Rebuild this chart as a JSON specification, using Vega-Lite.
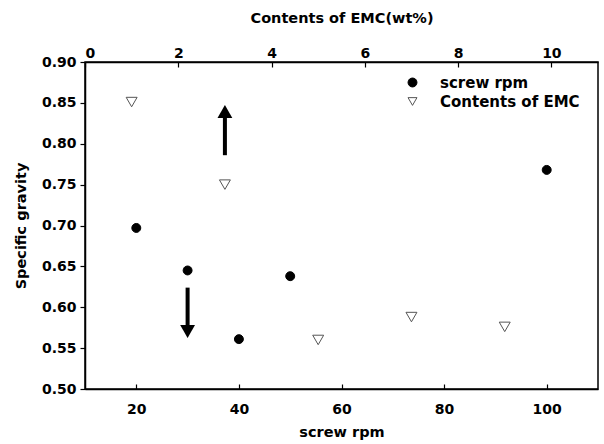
{
  "$schema": "https://vega.github.io/schema/vega-lite/v6.json",
  "width": 513,
  "height": 327,
  "autosize": "none",
  "padding": {"left": 85, "top": 62, "right": 6, "bottom": 55},
  "background": "white",
  "config": {
    "view": {"stroke": "#000000", "strokeWidth": 1.5},
    "axis": {
      "grid": false,
      "domainColor": "#000000",
      "domainWidth": 1.5,
      "tickColor": "#000000",
      "tickWidth": 1.2,
      "labelFont": "DejaVu Sans",
      "labelFontWeight": "bold",
      "labelFontSize": 14,
      "labelColor": "#000000",
      "titleFont": "DejaVu Sans",
      "titleFontWeight": "bold",
      "titleFontSize": 14.5,
      "titleColor": "#000000"
    },
    "legend": {
      "labelFont": "DejaVu Sans",
      "labelFontWeight": "bold",
      "labelFontSize": 15,
      "labelColor": "#000000",
      "symbolSize": 80,
      "symbolStrokeWidth": 1,
      "labelOffset": 20,
      "rowPadding": 3,
      "padding": 0
    }
  },
  "layer": [
    {
      "layer": [
        {
          "data": {
            "values": [
              {"series": "screw rpm", "rpm": 20, "gravity": 0.697},
              {"series": "screw rpm", "rpm": 30, "gravity": 0.645},
              {"series": "screw rpm", "rpm": 40, "gravity": 0.561},
              {"series": "screw rpm", "rpm": 50, "gravity": 0.638},
              {"series": "screw rpm", "rpm": 100, "gravity": 0.768}
            ]
          },
          "mark": {"type": "point", "filled": true, "size": 80, "strokeWidth": 1, "opacity": 1},
          "encoding": {
            "x": {
              "field": "rpm",
              "type": "quantitative",
              "scale": {"domain": [10, 110], "nice": false, "zero": false},
              "axis": {
                "orient": "bottom",
                "title": "screw rpm",
                "values": [20, 40, 60, 80, 100],
                "tickSize": -5,
                "labelPadding": 18,
                "titlePadding": 9
              }
            },
            "y": {
              "field": "gravity",
              "type": "quantitative",
              "title": "Specific gravity",
              "scale": {"domain": [0.5, 0.9], "nice": false, "zero": false},
              "axis": {
                "values": [0.5, 0.55, 0.6, 0.65, 0.7, 0.75, 0.8, 0.85, 0.9],
                "format": ".2f",
                "tickSize": 5,
                "labelPadding": 4,
                "titlePadding": 13
              }
            },
            "shape": {
              "field": "series",
              "type": "nominal",
              "scale": {"domain": ["screw rpm", "Contents of EMC"], "range": ["circle", "triangle-down"]},
              "legend": {"title": null, "orient": "none", "legendX": 320, "legendY": 13}
            },
            "fill": {
              "field": "series",
              "type": "nominal",
              "scale": {"domain": ["screw rpm", "Contents of EMC"], "range": ["#000000", "#ffffff"]},
              "legend": {"title": null, "orient": "none", "legendX": 320, "legendY": 13}
            },
            "stroke": {
              "field": "series",
              "type": "nominal",
              "scale": {"domain": ["screw rpm", "Contents of EMC"], "range": ["#000000", "#555555"]},
              "legend": {"title": null, "orient": "none", "legendX": 320, "legendY": 13}
            }
          }
        },
        {
          "data": {"values": [{"rpm": 30, "from": 0.624, "to": 0.575, "tip": 0.5703}]},
          "mark": {"type": "rule", "strokeWidth": 4, "color": "#000000"},
          "encoding": {
            "x": {"field": "rpm", "type": "quantitative"},
            "y": {"field": "from", "type": "quantitative", "title": "Specific gravity"},
            "y2": {"field": "to"}
          }
        },
        {
          "data": {"values": [{"rpm": 30, "from": 0.624, "to": 0.575, "tip": 0.5703}]},
          "mark": {"type": "point", "shape": "triangle-down", "filled": true, "size": 220, "color": "#000000", "opacity": 1},
          "encoding": {
            "x": {"field": "rpm", "type": "quantitative"},
            "y": {"field": "tip", "type": "quantitative", "title": "Specific gravity"}
          }
        }
      ]
    },
    {
      "layer": [
        {
          "data": {
            "values": [
              {"series": "Contents of EMC", "emc": 1, "gravity": 0.851},
              {"series": "Contents of EMC", "emc": 3, "gravity": 0.75},
              {"series": "Contents of EMC", "emc": 5, "gravity": 0.56},
              {"series": "Contents of EMC", "emc": 7, "gravity": 0.588},
              {"series": "Contents of EMC", "emc": 9, "gravity": 0.576}
            ]
          },
          "mark": {"type": "point", "filled": true, "size": 120, "strokeWidth": 1, "opacity": 1},
          "encoding": {
            "x": {
              "field": "emc",
              "type": "quantitative",
              "scale": {"domain": [0, 11], "nice": false, "zero": false},
              "axis": {
                "orient": "top",
                "title": "Contents of EMC(wt%)",
                "values": [0, 2, 4, 6, 8, 10],
                "tickSize": -5,
                "labelPadding": 7,
                "titlePadding": 21
              }
            },
            "y": {"field": "gravity", "type": "quantitative", "title": "Specific gravity"},
            "shape": {
              "field": "series",
              "type": "nominal",
              "scale": {"domain": ["screw rpm", "Contents of EMC"], "range": ["circle", "triangle-down"]},
              "legend": {"title": null, "orient": "none", "legendX": 320, "legendY": 13}
            },
            "fill": {
              "field": "series",
              "type": "nominal",
              "scale": {"domain": ["screw rpm", "Contents of EMC"], "range": ["#000000", "#ffffff"]},
              "legend": {"title": null, "orient": "none", "legendX": 320, "legendY": 13}
            },
            "stroke": {
              "field": "series",
              "type": "nominal",
              "scale": {"domain": ["screw rpm", "Contents of EMC"], "range": ["#000000", "#555555"]},
              "legend": {"title": null, "orient": "none", "legendX": 320, "legendY": 13}
            }
          }
        },
        {
          "data": {"values": [{"emc": 3, "from": 0.786, "to": 0.835, "tip": 0.8394}]},
          "mark": {"type": "rule", "strokeWidth": 4, "color": "#000000"},
          "encoding": {
            "x": {"field": "emc", "type": "quantitative"},
            "y": {"field": "from", "type": "quantitative", "title": "Specific gravity"},
            "y2": {"field": "to"}
          }
        },
        {
          "data": {"values": [{"emc": 3, "from": 0.786, "to": 0.835, "tip": 0.8394}]},
          "mark": {"type": "point", "shape": "triangle-up", "filled": true, "size": 220, "color": "#000000", "opacity": 1},
          "encoding": {
            "x": {"field": "emc", "type": "quantitative"},
            "y": {"field": "tip", "type": "quantitative", "title": "Specific gravity"}
          }
        }
      ]
    }
  ],
  "resolve": {"scale": {"x": "independent"}, "axis": {"x": "independent"}}
}
